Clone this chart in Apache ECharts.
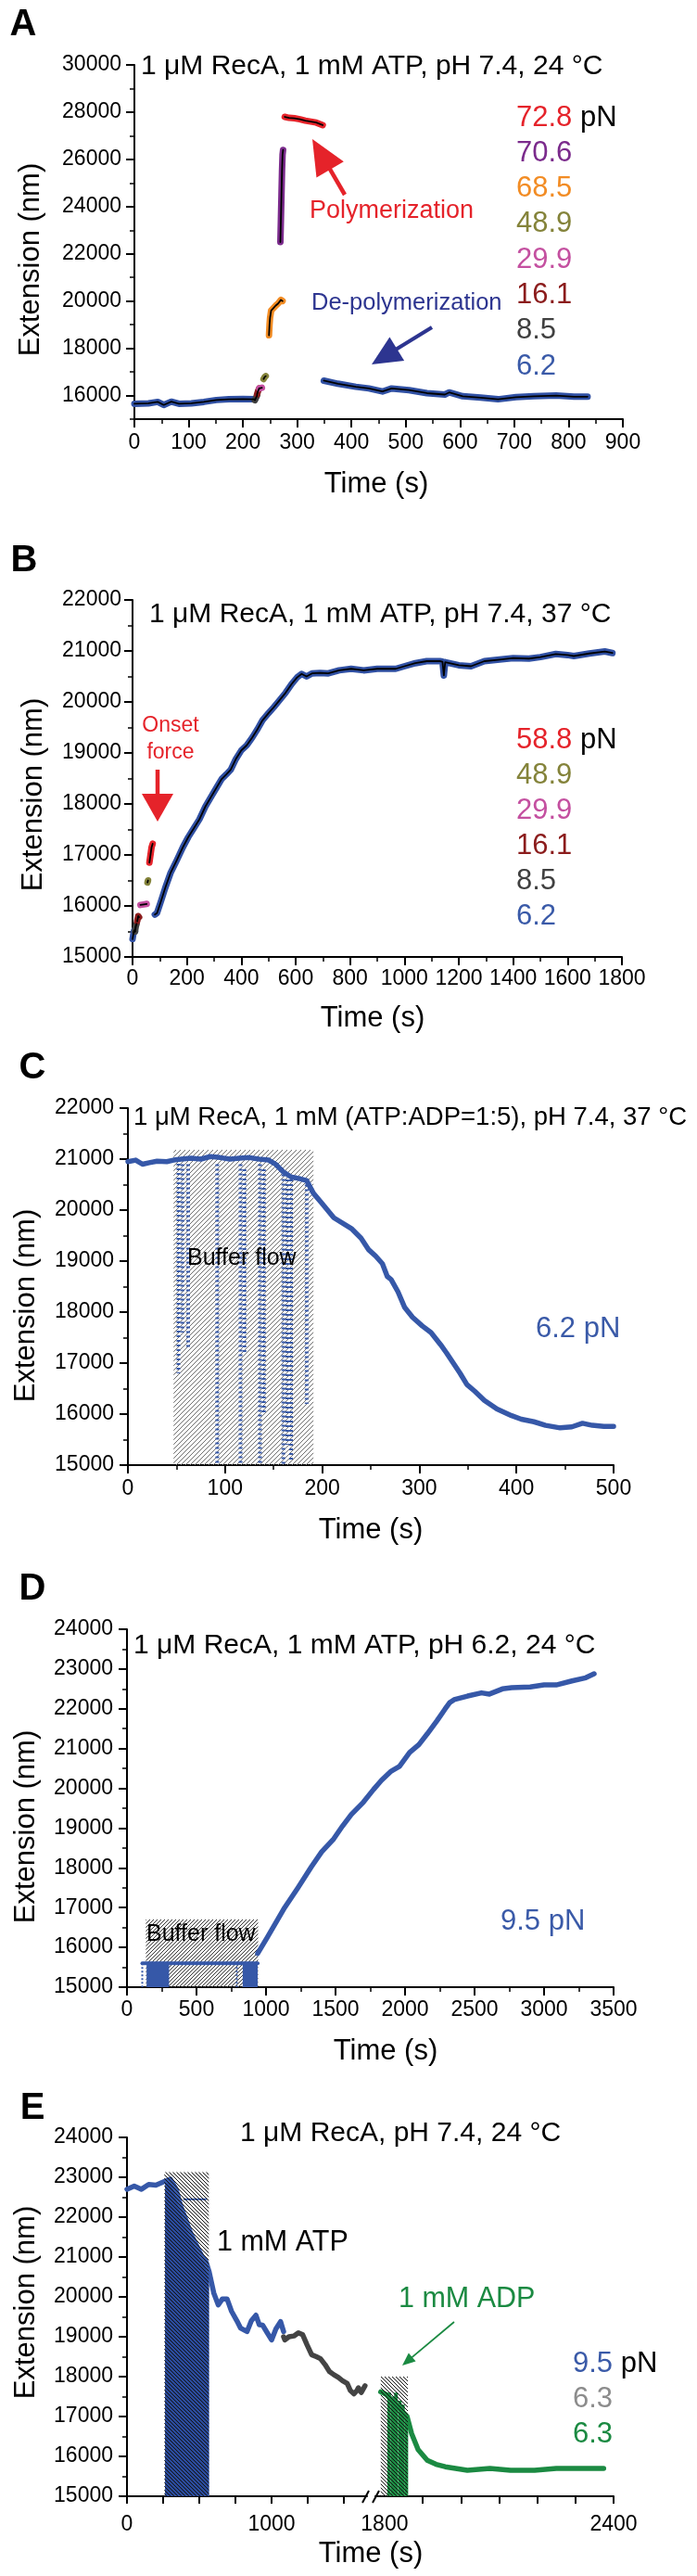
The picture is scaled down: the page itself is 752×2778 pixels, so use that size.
<!DOCTYPE html>
<html><head><meta charset="utf-8">
<script src="https://cdn.jsdelivr.net/npm/echarts@6/dist/echarts.min.js"></script>
<style>html,body{margin:0;padding:0;background:#fff}#c{width:752px;height:2778px}</style>
</head><body><div id="c"></div>
<script>
// ---------------- DATA ----------------
// Panel A (time s, extension nm)
const aYTicks = [16000,18000,20000,22000,24000,26000,28000,30000];
const aYMinor = [15000,17000,19000,21000,23000,25000,27000,29000];
const aBlue1 = [[0,15650],[26,15670],[43,15730],[54,15600],[68,15740],[82,15650],[105,15670],[128,15730],[151,15810],[174,15840],[200,15850],[222,15840]];
const aGray = [[222,15800],[224,15900],[226,16000]];
const aDarkRed = [[226,16050],[228,16200],[230,16300]];
const aMagenta = [[230,16300],[232,16350],[235,16330]];
const aOlive = [[238,16700],[240,16780],[242,16820]];
const aOrange = [[248,18550],[249,19000],[250,19300],[252,19600],[256,19700],[260,19800],[265,19900],[270,20050],[273,20000]];
const aPurple = [[269,22500],[270,23500],[271,24500],[272,25500],[273,26200],[274,26400]];
const aRed = [[277,27800],[285,27760],[295,27740],[305,27700],[315,27640],[325,27600],[335,27560],[347,27450]];
const aBlue2 = [[349,16630],[375,16500],[408,16370],[432,16300],[457,16170],[474,16300],[506,16230],[539,16100],[572,16040],[580,16130],[605,15970],[638,15910],[670,15840],[703,15930],[736,15970],[777,16000],[810,15950],[835,15950]];
const aForces = ['72.8','70.6','68.5','48.9','29.9','16.1','8.5','6.2'];

// Panel B
const bBlue0 = [[0,15350],[3,15450],[6,15520],[9,15500]];
const bGray = [[9,15500],[12,15600],[15,15650]];
const bDarkRed = [[17,15700],[21,15800],[24,15780]];
const bMagenta = [[29,16020],[35,16050],[41,16030],[47,16060],[52,16040]];
const bOlive = [[55,16460],[57,16500]];
const bRed = [[62,16850],[66,17000],[70,17150],[74,17220]];
const bBlue = [[82,15830],[90,15860],[105,16100],[120,16350],[140,16650],[164,16910],[185,17150],[205,17350],[225,17520],[246,17700],[268,17950],[290,18150],[310,18330],[328,18490],[345,18580],[361,18670],[380,18880],[400,19050],[420,19150],[440,19300],[460,19470],[478,19640],[500,19780],[520,19900],[540,20030],[563,20180],[585,20350],[605,20480],[622,20550],[640,20500],[660,20560],[690,20570],[720,20560],[760,20620],[804,20650],[850,20620],[900,20650],[968,20650],[1000,20700],[1040,20760],[1082,20800],[1130,20800],[1140,20790],[1145,20520],[1150,20780],[1200,20720],[1245,20700],[1294,20800],[1350,20830],[1400,20860],[1458,20850],[1500,20880],[1557,20940],[1600,20920],[1623,20900],[1680,20950],[1737,20990],[1765,20960]];
const bForces = ['58.8','48.9','29.9','16.1','8.5','6.2'];

// Panel C
const cTrace = [[0,20950],[8,20980],[15,20900],[22,20930],[30,20960],[40,20950],[47,20980],[55,21000],[65,21020],[75,21000],[85,21050],[95,21030],[105,21000],[115,21020],[125,21030],[135,21000],[145,20980],[152,20900],[160,20750],[168,20650],[176,20620],[184,20580],[191,20330],[199,20150],[212,19850],[230,19640],[240,19450],[248,19220],[255,19100],[262,18950],[267,18700],[271,18640],[278,18400],[285,18090],[293,17900],[303,17730],[312,17600],[322,17360],[328,17200],[335,17000],[342,16800],[349,16580],[357,16450],[367,16270],[380,16100],[395,15970],[405,15900],[418,15850],[430,15780],[445,15730],[457,15750],[468,15820],[478,15780],[490,15760],[500,15760]];
const cStreaks = [[52,21000,16800],[56,20900,17600],[62,20900,17300],[92,20900,15000],[116,20900,15000],[120,20800,17200],[136,20900,15000],[140,20800,16000],[160,20700,15000],[164,20600,15400],[168,20600,15100],[184,20500,16200]];
const cHatch = [[47,191,21180]];

// Panel D
const dTrace = [[940,15850],[1007,16240],[1134,17000],[1230,17500],[1327,18030],[1400,18400],[1487,18730],[1550,19050],[1613,19340],[1700,19650],[1773,19970],[1830,20200],[1900,20430],[1960,20550],[2033,20900],[2100,21100],[2160,21370],[2230,21700],[2287,21990],[2320,22150],[2353,22230],[2450,22320],[2550,22400],[2607,22370],[2700,22500],[2767,22530],[2900,22550],[3000,22600],[3087,22600],[3200,22700],[3300,22780],[3360,22880]];
const dBase = [[110,15600],[940,15600]];
const dFillA = [[141,15600],[303,15600]];
const dFillB = [[832,15600],[940,15600]];
const dStreaks = [[110,15600,15000],[790,15600,15000]];
const dHatch = [[136,943,16700]];

// Panel E
const eBlue = [[0,22700],[50,22780],[100,22700],[150,22820],[200,22800],[263,22900],[300,22950],[340,22700],[370,22300],[400,22000],[440,21600],[480,21300],[520,21000],[545,20900],[568,20630],[600,20100],[631,19800],[660,19950],[692,19950],[723,19640],[760,19400],[785,19220],[830,19130],[860,19400],[892,19540],[915,19300],[938,19290],[970,19100],[1000,18920],[1030,19200],[1062,19380],[1083,19130]];
const eBlueStray = [[395,22450],[545,22450]];
const eGray = [[1083,19000],[1092,18920],[1120,19000],[1154,19020],[1185,19100],[1215,19050],[1245,18800],[1277,18550],[1310,18500],[1338,18450],[1370,18300],[1400,18130],[1430,18050],[1462,17980],[1490,17900],[1523,17830],[1545,17650],[1569,17570],[1590,17650],[1600,17720],[1620,17600],[1646,17770]];
const eGreen = [[1790,17620],[1805,17550],[1859,17000],[1871,16570],[1888,16170],[1912,15900],[1935,15800],[1959,15740],[2017,15650],[2076,15700],[2130,15650],[2193,15650],[2250,15700],[2310,15700],[2374,15700]];
const eGreenStreaks = [[1812,17600,15000],[1822,17500,15000],[1830,17600,15000],[1840,17400,15000],[1848,17300,15000],[1857,17000,15000]];
const eHatch1 = [[258,566,23130]];
const eHatch2 = [[1790,1861,18000]];
const eForces = ['9.5','6.3','6.3'];
const eX1Ticks = [0,250,500,750,1000,1250,1500];
const eX1Labels = [0,1000];
const eX2Ticks = [1900,2000,2100,2200,2300,2400];
const eX2Labels = [1800,2400];

// ---------------- STYLE ----------------
const FF = '"Liberation Sans", Arial, Helvetica, sans-serif';
const C = {
  red:'#e5232a', purple:'#7b2b8c', orange:'#f28c24', olive:'#84833a', magenta:'#c450a0',
  darkred:'#8b1c1c', gray:'#404040', blue:'#3a5aa8', bandBlue:'#3050a3', trace:'#3658a8',
  eGray:'#444444', green:'#1b8a42', lgray:'#8c8c8c', navy:'#2d3590'
};
const aColors = [C.red,C.purple,C.orange,C.olive,C.magenta,C.darkred,C.gray,C.blue];
const bColors = [C.red,C.olive,C.magenta,C.darkred,C.gray,C.blue];
const eColors = [C.blue,C.lgray,C.green];

function hatchPattern(color, size, dir, lw) {
  const c = document.createElement('canvas');
  c.width = size; c.height = size;
  const g = c.getContext('2d');
  g.strokeStyle = color; g.lineWidth = lw;
  g.beginPath();
  if (dir > 0) {
    g.moveTo(-1, size + 1); g.lineTo(size + 1, -1);
    g.moveTo(-1, 1); g.lineTo(1, -1);
    g.moveTo(size - 1, size + 1); g.lineTo(size + 1, size - 1);
  } else {
    g.moveTo(-1, -1); g.lineTo(size + 1, size + 1);
    g.moveTo(size - 1, -1); g.lineTo(size + 1, 1);
    g.moveTo(-1, size - 1); g.lineTo(1, size + 1);
  }
  g.stroke();
  return { image: c, repeat: 'repeat' };
}

const tickStyle = {color:'#000', width:2};
const plain = v => String(v);
function vAxis(gi, min, max, interval, labelMargin, extra) {
  const ax = {
    type:'value', gridIndex:gi, min, max, interval,
    axisLine:{show:true, onZero:false, lineStyle:{color:'#000', width:2}},
    axisTick:{show:true, inside:false, length:9, lineStyle:tickStyle},
    minorTick:{show:true, splitNumber:2, length:5, lineStyle:{color:'#000', width:1.5}},
    splitLine:{show:false}, minorSplitLine:{show:false},
    axisLabel:{show:true, color:'#000', fontSize:23, fontFamily:FF, margin:labelMargin, formatter:plain}
  };
  if (extra) {
    for (const k in extra) {
      if (typeof extra[k] === 'object' && !Array.isArray(extra[k]) && ax[k]) ax[k] = Object.assign({}, ax[k], extra[k]);
      else ax[k] = extra[k];
    }
  }
  return ax;
}

const grids = [
  {left:145, top:70, width:527, height:382},   // A
  {left:143, top:647, width:528, height:385},  // B
  {left:138, top:1195, width:524, height:385}, // C
  {left:137, top:1757, width:525, height:386}, // D
  {left:137, top:2305, width:259, height:387}, // E1
  {left:405, top:2305, width:257, height:387}  // E2
].map(g => Object.assign({containLabel:false, outerBoundsMode:'none', show:false}, g));

const xAxes = [
  vAxis(0, 0, 900, 100, 14),
  vAxis(1, 0, 1800, 200, 12),
  vAxis(2, 0, 500, 100, 14),
  vAxis(3, 0, 3500, 500, 13),
  vAxis(4, 0, 1660, 250, 19, {minorTick:{show:false}, axisTick:{customValues:eX1Ticks, length:8}, axisLabel:{customValues:eX1Labels}}),
  vAxis(5, 1776, 2400, 100, 19, {minorTick:{show:false}, axisTick:{customValues:eX2Ticks, length:8}, axisLabel:{customValues:eX2Labels}})
];
const yAxes = [
  vAxis(0, 15000, 30000, 1000, 14, {minorTick:{show:false}, axisTick:{customValues:aYTicks}, axisLabel:{customValues:aYTicks}}),
  vAxis(1, 15000, 22000, 1000, 12),
  vAxis(2, 15000, 22000, 1000, 15),
  vAxis(3, 15000, 24000, 1000, 15),
  vAxis(4, 15000, 24000, 1000, 15),
  {type:'value', gridIndex:5, min:15000, max:24000, show:false, splitLine:{show:false}},
  {type:'value', gridIndex:0, min:15000, max:30000, position:'left', axisLine:{show:false},
   axisTick:{show:true, length:5, customValues:aYMinor, lineStyle:{color:'#000', width:1.5}},
   axisLabel:{show:false}, splitLine:{show:false}}
];

function line(i, data, color, width, z, extra) {
  return Object.assign({type:'line', xAxisIndex:i, yAxisIndex:i, data, symbol:'none', showSymbol:false,
    lineStyle:{color, width, join:'round', cap:'round'}, itemStyle:{color}, z:z||3, silent:true, animation:false}, extra||{});
}
function cored(i, data, color) { return [line(i, data, color, 7, 3), line(i, data, '#000', 1.8, 4)]; }
function hatch(i, rects, pattern, z) {
  const yBase = 15000;
  return {type:'custom', xAxisIndex:i, yAxisIndex:i, data:rects, z, silent:true, animation:false,
    renderItem(params, api) {
      const a = api.coord([api.value(0), api.value(2)]);
      const b = api.coord([api.value(1), yBase]);
      return {type:'rect', shape:{x:a[0], y:a[1], width:b[0]-a[0], height:b[1]-a[1]}, style:{fill:pattern}};
    }};
}
function streaks(i, data, color, width, dash, z) {
  return {type:'custom', xAxisIndex:i, yAxisIndex:i, data, z, silent:true, animation:false,
    renderItem(params, api) {
      const a = api.coord([api.value(0), api.value(1)]);
      const b = api.coord([api.value(0), api.value(2)]);
      return {type:'line', shape:{x1:a[0], y1:a[1], x2:b[0], y2:b[1]}, style:{stroke:color, lineWidth:width, lineDash:dash}};
    }};
}

const series = [].concat(
  // A
  cored(0, aBlue1, C.bandBlue), cored(0, aGray, C.gray), cored(0, aDarkRed, C.darkred), cored(0, aMagenta, C.magenta),
  cored(0, aOlive, C.olive), cored(0, aOrange, C.orange), cored(0, aPurple, C.purple), cored(0, aRed, C.red), cored(0, aBlue2, C.bandBlue),
  // B
  cored(1, bBlue0, C.bandBlue), cored(1, bGray, C.gray), cored(1, bDarkRed, C.darkred), cored(1, bMagenta, C.magenta),
  cored(1, bOlive, C.olive), cored(1, bRed, C.red), cored(1, bBlue, C.bandBlue),
  // C
  [hatch(2, cHatch, hatchPattern('#6e6e6e', 5, 1, 1), 1),
   streaks(2, cStreaks, C.trace, 4, [2, 3], 2),
   line(2, cTrace, C.trace, 5.5, 3)],
  // D
  [hatch(3, dHatch, hatchPattern('#333333', 4, 1, 1), 1),
   line(3, dFillA, C.trace, 3, 2, {areaStyle:{color:C.trace, origin:'start', opacity:1}}),
   line(3, dFillB, C.trace, 3, 2, {areaStyle:{color:C.trace, origin:'start', opacity:1}}),
   line(3, dBase, C.trace, 4, 2),
   streaks(3, dStreaks, C.trace, 2, [2, 2], 2),
   line(3, dTrace, C.trace, 5.5, 3)],
  // E1
  [line(4, eBlue.filter(p => p[0] >= 263 && p[0] <= 568), C.trace, 2, 2, {areaStyle:{color:'#2a4a9a', origin:'start', opacity:1}}),
   line(4, eBlue, C.trace, 5.5, 3),
   line(4, eBlueStray, C.trace, 2, 3),
   line(4, eGray, C.eGray, 5.5, 3),
   hatch(4, eHatch1, hatchPattern('#111111', 4, -1, 1), 5)],
  // E2
  [streaks(5, eGreenStreaks, C.green, 4, null, 2),
   line(5, eGreen, C.green, 5.5, 3),
   hatch(5, eHatch2, hatchPattern('#111111', 4, -1, 1), 5)]
);

// ---------------- ANNOTATIONS ----------------
const graphics = [];
function txt(x, y, text, o) {
  o = o || {};
  const style = {text, fontFamily:FF, fontSize:o.size||31, fill:o.color||'#000', align:o.align||'left',
    verticalAlign:'middle', fontWeight:o.bold?'bold':'normal'};
  if (o.rich) style.rich = o.rich;
  graphics.push({type:'text', x, y, rotation:o.rot||0, silent:true, z:100, style});
}
function arrow(tail, tip, hl, hw, lw, color) {
  const dx = tip[0]-tail[0], dy = tip[1]-tail[1], L = Math.hypot(dx, dy), ux = dx/L, uy = dy/L;
  const bx = tip[0]-hl*ux, by = tip[1]-hl*uy, nx = -uy, ny = ux;
  graphics.push({type:'line', silent:true, z:100, shape:{x1:tail[0], y1:tail[1], x2:bx+ux*3, y2:by+uy*3}, style:{stroke:color, lineWidth:lw}});
  graphics.push({type:'polygon', silent:true, z:100, shape:{points:[[tip[0],tip[1]],[bx+hw*nx,by+hw*ny],[bx-hw*nx,by-hw*ny]]}, style:{fill:color}});
}
function legendItem(x, y, val, color, unit, unitColor) {
  const uc = unitColor || '#000';
  const rich = {c:{fill:color, color:color, fontSize:31, fontFamily:FF}, k:{fill:uc, color:uc, fontSize:31, fontFamily:FF}};
  txt(x, y, unit ? `{c|${val}} {k|pN}` : `{c|${val}}`, {rich});
}

// panel letters
[['A',25,27],['B',26,605],['C',35,1152],['D',35,1714],['E',35,2274]].forEach(p => txt(p[1], p[2], p[0], {size:40, bold:true, align:'center'}));
// titles
txt(152, 72, '1 μM RecA, 1 mM ATP, pH 7.4, 24 °C', {size:30});
txt(161, 663, '1 μM RecA, 1 mM ATP, pH 7.4, 37 °C', {size:30});
txt(144, 1205, '1 μM RecA, 1 mM (ATP:ADP=1:5), pH 7.4, 37 °C', {size:27.5});
txt(144, 1775, '1 μM RecA, 1 mM ATP, pH 6.2, 24 °C', {size:30});
txt(259, 2301, '1 μM RecA, pH 7.4, 24 °C', {size:30});
// axis names
[[33,280],[36,857],[28,1408],[28,1970],[28,2483]].forEach(p => txt(p[0], p[1], 'Extension (nm)', {rot:Math.PI/2, align:'center'}));
[[406,522],[402,1098],[400,1650],[416,2212],[400,2754]].forEach(p => txt(p[0], p[1], 'Time (s)', {align:'center'}));
// legends
aForces.forEach((f, i) => legendItem(557, 127 + i*38.3, f, aColors[i], i === 0));
bForces.forEach((f, i) => legendItem(557, 798 + i*38, f, bColors[i], i === 0));
legendItem(578, 1433, '6.2', C.blue, true, C.blue);
legendItem(540, 2072, '9.5', C.blue, true, C.blue);
eForces.forEach((f, i) => legendItem(618, 2549 + i*38, f, eColors[i], i === 0));
// annotations
txt(334, 228, 'Polymerization', {size:27, color:C.red});
arrow([372,210], [337,150], 38, 17, 4.5, C.red);
txt(336, 327, 'De-polymerization', {size:25.5, color:C.navy});
arrow([466,353], [401,393], 32, 15, 4, C.navy);
txt(184, 783, 'Onset', {size:23, color:C.red, align:'center'});
txt(184, 812, 'force', {size:23, color:C.red, align:'center'});
arrow([170,830], [170,886], 30, 17, 4.5, C.red);
txt(202, 1357, 'Buffer flow', {size:25});
txt(158, 2086, 'Buffer flow', {size:25});
txt(234, 2419, '1 mM ATP', {size:30.5});
txt(430, 2480, '1 mM ADP', {size:30.5, color:C.green});
arrow([490,2504], [434,2551], 14, 6, 1.8, C.green);
// axis break marks
graphics.push({type:'line', silent:true, z:100, shape:{x1:391, y1:2699, x2:398, y2:2686}, style:{stroke:'#000', lineWidth:2}});
graphics.push({type:'line', silent:true, z:100, shape:{x1:402, y1:2699, x2:409, y2:2686}, style:{stroke:'#000', lineWidth:2}});

const chart = echarts.init(document.getElementById('c'), null, {renderer:'canvas', width:752, height:2778});
chart.setOption({
  animation:false,
  backgroundColor:'#fff',
  textStyle:{fontFamily:FF},
  grid:grids, xAxis:xAxes, yAxis:yAxes, series, graphic:graphics
});
</script></body></html>
